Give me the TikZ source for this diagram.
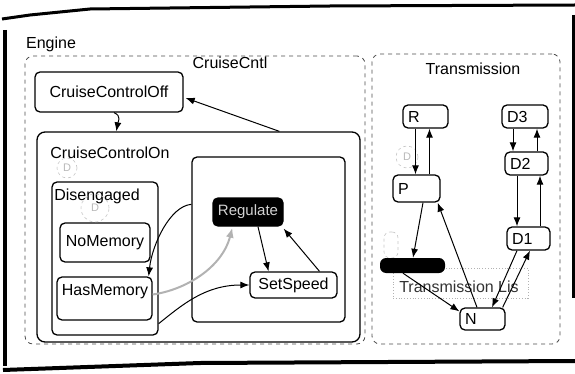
\documentclass[tikz,border=0pt]{standalone}
\usepackage{fontspec}
\setmainfont{Liberation Sans}
\usetikzlibrary{arrows.meta,calc}
\begin{document}
\begin{tikzpicture}[x=1pt,y=-1pt,
  every node/.style={font=\fontsize{16}{19}\selectfont, inner sep=0pt},
  st/.style={draw, line width=1.3pt, rounded corners=5pt},
  region/.style={draw=gray!60!black, dash pattern=on 4pt off 4pt, line width=0.8pt, rounded corners=8pt},
  tbox/.style={st, inner xsep=5pt, align=left, minimum height=23pt},
  arr/.style={-{Latex[length=9pt,width=7pt]}, line width=1pt},
  garr/.style={-{Latex[length=10pt,width=8pt]}, line width=2pt, gray!60},
  ghost/.style={draw=gray!45, line width=0.6pt, dashed, circle, text=gray!55, font=\fontsize{11}{12}\selectfont},
  frameline/.style={line width=3.5pt, black}
]
\path[use as bounding box] (0,0) rectangle (575,374);

% scanned outer frame
\draw[frameline, line width=3pt] (2,19) -- (30,15) -- (90,9) -- (330,6) -- (575,5);
\draw[frameline] (5,30) -- (5,366);
\draw[frameline, line width=4pt] (3,370) -- (200,363) -- (575,361);
\draw[frameline, line width=3pt] (573,15) -- (573,298);

% regions
\node[region, minimum width=340pt, minimum height=288pt] (cruisecntl) at (195,200) {};
\node[region, minimum width=188pt, minimum height=290pt] (transmission) at (466,199) {};
\node (enginelbl) at (51,44) {Engine};
\node (cclbl) at (230,63) {CruiseCntl};
\node (trlbl) at (473,69) {Transmission};

% CruiseCntl states
\node[st, minimum width=148pt, minimum height=40pt] (ccoff) at (109,92) {CruiseControlOff};
\node[st, rounded corners=8pt, minimum width=323pt, minimum height=210pt] (ccon) at (198.5,237) {};
\node (cconlbl) at (110,153) {CruiseControlOn};
\node[st, minimum width=106pt, minimum height=153pt] (diseng) at (105,258.5) {};
\node (disenglbl) at (97,196) {Disengaged};
\node[st, minimum width=90pt, minimum height=39pt] (nomem) at (105,242.5) {NoMemory};
\node[st, minimum width=95pt, minimum height=43pt] (hasmem) at (104.5,298.5) {};
\node (hasmemlbl) at (105,292) {HasMemory};
\node[st, minimum width=153pt, minimum height=165pt] (engaged) at (268.5,239.5) {};
\node[st, fill=black, text=gray!35, minimum width=70pt, minimum height=28pt, font=\fontsize{15}{18}\selectfont] (regulate) at (248,212) {Regulate};
\node[st, minimum width=87pt, minimum height=26pt] (setspeed) at (293.5,285) {SetSpeed};

% ghost default markers
\node[ghost, minimum size=20pt] (g1) at (67,168) {D};
\node[ghost, minimum size=28pt] (g2) at (95,208) {D};
\node[ghost, minimum size=22pt] (g3) at (407,157) {D};
\node[draw=gray!45, dashed, line width=0.6pt, rounded corners=6pt, minimum width=14pt, minimum height=26pt] (g4) at (391,245) {};

% Transmission states
\node[draw=gray!60, dotted, line width=0.8pt, minimum width=135pt, minimum height=30pt] (listbox) at (460.5,283) {};
\node[text=black!80] (listlbl) at (459,287) {Transmission Lis};
\node[fill=black, rounded corners=6pt, minimum width=65pt, minimum height=15pt] (bar) at (412.5,265.5) {};
\node[tbox, text width=35pt] (R) at (425.5,116.5) {R};
\node[tbox, text width=36pt] (D3) at (525,116.5) {D3};
\node[tbox, text width=33pt] (D2) at (526.5,163.5) {D2};
\node[tbox, text width=37pt, minimum height=27pt] (P) at (416.5,188.5) {P};
\node[tbox, text width=33pt] (D1) at (528.5,238.5) {D1};
\node[tbox, text width=35pt, minimum height=22pt] (N) at (482.5,319) {N};

% CruiseCntl transitions
\draw[arr] ($(ccoff.south)+(5,0)$) .. controls (122,116) and (118,122) .. ($(ccon.north west)+(80,0)$);
\draw[arr] ($(ccon.north west)+(243,0)$) -- ($(ccoff.east)+(2,6)$);
\draw[arr] ($(engaged.north west)+(0,48)$) .. controls (170,206) and (152,245) .. ($(hasmem.north east)+(-4,0)$);
\draw[garr] ($(hasmem.east)+(0,-4)$) .. controls (185,290) and (222,268) .. ($(regulate.south west)+(20,1)$);
\draw[arr] ($(diseng.south east)+(0,-12)$) .. controls (182,305) and (205,285) .. (setspeed.west);
\draw[arr] ($(regulate.south)+(10,0)$) -- ($(setspeed.north)+(-25,0)$);
\draw[arr] ($(setspeed.north)+(26,0)$) -- ($(regulate.south east)+(0,2)$);

% Transmission transitions
\draw[arr] ($(R.south)+(-10,0)$) -- ($(P.north)+(-1,0)$);
\draw[arr] ($(P.north)+(13,0)$) -- ($(R.south)+(4,0)$);
\draw[arr] ($(D3.south)+(-12,0)$) -- ($(D2.north)+(-13.5,0)$);
\draw[arr] ($(D2.north)+(10.5,0)$) -- ($(D3.south)+(12,0)$);
\draw[arr] ($(D2.south)+(-9.5,0)$) -- ($(D1.north)+(-11.5,0)$);
\draw[arr] ($(D1.north)+(11.5,0)$) -- ($(D2.south)+(13.5,0)$);
\draw[arr] ($(P.south)+(6.5,0)$) -- ($(bar.north)+(0.5,0)$);
\draw[arr] ($(bar.south)+(-9.5,0)$) -- ($(N.north west)+(0,4)$);
\draw[arr] ($(N.north)+(-5.5,0)$) -- ($(P.south east)+(-3,0)$);
\draw[arr] ($(D1.south)+(-11.5,0)$) -- ($(N.north)+(9.5,0)$);
\draw[arr] ($(N.north east)+(-3,0)$) -- ($(D1.south)+(1.5,0)$);
\end{tikzpicture}
\end{document}
